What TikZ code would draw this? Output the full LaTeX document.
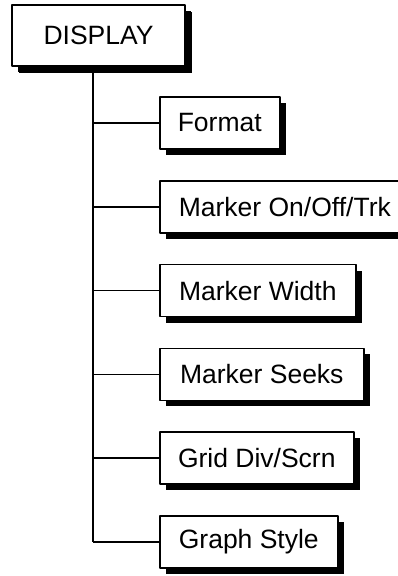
\documentclass[tikz,border=0pt]{standalone}
\usepackage{fontspec}
\setmainfont{Liberation Sans}
\usetikzlibrary{shadows}
\tikzset{
  solidshadow/.style={drop shadow={shadow xshift=#1,shadow yshift=-#1,fill=black,opacity=1}},
  menubox/.style={draw, line width=1.6pt, fill=white, inner xsep=18pt, minimum height=52pt,
    font=\fontsize{26.5}{30}\selectfont, solidshadow=6pt},
  link/.style={line width=1.6pt}
}
\begin{document}
\begin{tikzpicture}[x=1pt,y=-1pt,line join=round]
  \useasboundingbox (0,0) rectangle (398,576);
  \clip (0,0) rectangle (398,576);
  % top menu
  \node[menubox, minimum width=173pt, minimum height=61pt, solidshadow=7pt] (display) at (98.5,35.5) {DISPLAY};
  \coordinate (trunk) at (93,0);
  % sub menus
  \foreach \name/\label/\boxw [count=\i] in {format/Format/118, onoff/{Marker On/Off/Trk}/250,
      width/Marker Width/196, seeks/Marker Seeks/204, grid/{Grid Div/Scrn}/194, graph/Graph Style/178}{
    \pgfmathsetmacro\yy{39.2+83.8*\i}
    \node[menubox, anchor=west, minimum width=\boxw pt] (\name) at (159,\yy) {\label};
    \draw[link] (trunk |- \name.west) -- (\name.west);
  }
  \draw[link] (display.south -| trunk) -- (trunk |- graph.west);
\end{tikzpicture}
\end{document}
